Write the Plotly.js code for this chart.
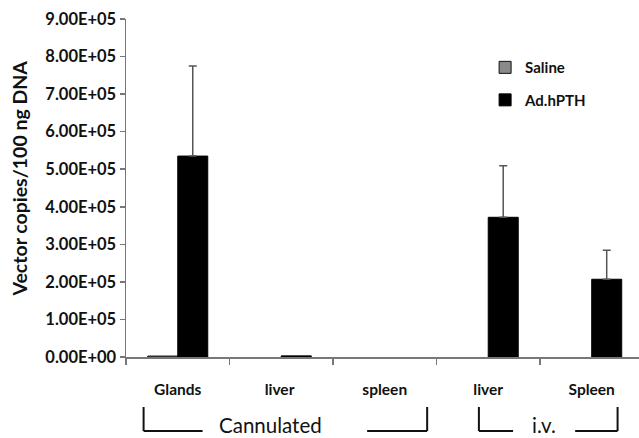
<!DOCTYPE html>
<html><head><meta charset="utf-8">
<script src="https://cdn.plot.ly/plotly-3.0.1.min.js"></script>
<style>html,body{margin:0;padding:0;background:#fff;}#chart{width:639px;height:438px;}</style>
</head><body><div id="chart"></div>
<script>
var categories = ["Glands", "liver ", "spleen", "liver", "Spleen"];
var salineValues = [2500, 0, 0, 0, 0];
var adValues = [535000, 3000, 0, 372000, 207000];
var adErr = [240000, 0, 0, 137000, 77000];
var yTickVals = [0, 100000, 200000, 300000, 400000, 500000, 600000, 700000, 800000, 900000];
var yTickText = ["0.00E+00","1.00E+05","2.00E+05","3.00E+05","4.00E+05","5.00E+05","6.00E+05","7.00E+05","8.00E+05","9.00E+05"];

var font = "Lato, 'Open Sans', sans-serif";
function lw(vals){return vals.map(function(v){return v > 0 ? 1 : 0;});}
var errPlus = adErr.map(function(v){return v > 0 ? v : NaN;});
var errMinus = adErr.map(function(v){return v > 0 ? 0 : NaN;});
var traces = [
  {type:"bar", name:"Saline", legendgroup:"a", x:categories, y:salineValues,
   marker:{color:"#8a8a8a", line:{color:"#111", width:lw(salineValues)}}},
  {type:"bar", name:"Ad.hPTH", legendgroup:"b", x:categories, y:adValues,
   marker:{color:"#000", line:{color:"#000", width:lw(adValues)}},
   error_y:{type:"data", symmetric:false, array:errPlus, arrayminus:errMinus,
            color:"#555", thickness:1.5, width:4}}
];
var shapeLine = {color:"#111", width:2};
function seg(x0,x1,y0,y1){return {type:"line", xref:"x", yref:"paper", x0:x0, x1:x1, y0:y0, y1:y1, line:shapeLine};}
var yTop = -0.148, yBot = -0.219;
var layout = {
  width:639, height:438,
  margin:{l:126, r:0, t:19, b:81},
  paper_bgcolor:"#fff", plot_bgcolor:"#fff",
  barmode:"group", bargap:0.42, bargroupgap:0,
  showlegend:true,
  legend:{x:0.7, y:0.905, xanchor:"left", yanchor:"top", font:{family:font, size:15, color:"#111", weight:"bold"}, bgcolor:"rgba(0,0,0,0)", tracegroupgap:10, itemwidth:30},
  xaxis:{type:"category", range:[-0.5, 4.457], showline:true, linecolor:"#777", linewidth:1.5,
         ticks:"outside", tickson:"boundaries", ticklen:6, tickcolor:"#777", tickwidth:1.5,
         showgrid:false, zeroline:false, ticklabelstandoff:18,
         tickfont:{family:font, size:15.5, color:"#111", weight:"bold"}},
  yaxis:{range:[0, 900000], tickvals:yTickVals, ticktext:yTickText, showline:true, linecolor:"#777", linewidth:1.5,
         ticks:"outside", ticklen:5, tickcolor:"#777", tickwidth:1.5, showgrid:false, zeroline:false,
         tickfont:{family:font, size:16.5, color:"#111", weight:"bold"}},
  shapes:[
    seg(-0.33,-0.33,yTop,yBot), seg(-0.33,0.24,yBot,yBot),
    seg(1.83,2.41,yBot,yBot), seg(2.41,2.41,yTop,yBot),
    seg(2.91,2.91,yTop,yBot), seg(2.91,3.24,yBot,yBot),
    seg(3.84,4.25,yBot,yBot), seg(4.25,4.25,yTop,yBot)
  ],
  annotations:[
    {text:"Vector copies/100 ng DNA", xref:"paper", yref:"paper", x:-0.2066, y:0.528, textangle:-90, xanchor:"center", yanchor:"middle", showarrow:false, font:{family:font, size:19.5, color:"#111", weight:"bold"}},
    {text:"Cannulated", xref:"x", yref:"paper", x:0.9, y:-0.2, xanchor:"center", yanchor:"middle", showarrow:false, font:{family:font, size:20.5, color:"#111"}},
    {text:"i.v.", xref:"x", yref:"paper", x:3.54, y:-0.2, xanchor:"center", yanchor:"middle", showarrow:false, font:{family:font, size:20.5, color:"#111"}}
  ]
};
Plotly.newPlot("chart", traces, layout, {displayModeBar:false, staticPlot:true});
</script></body></html>
